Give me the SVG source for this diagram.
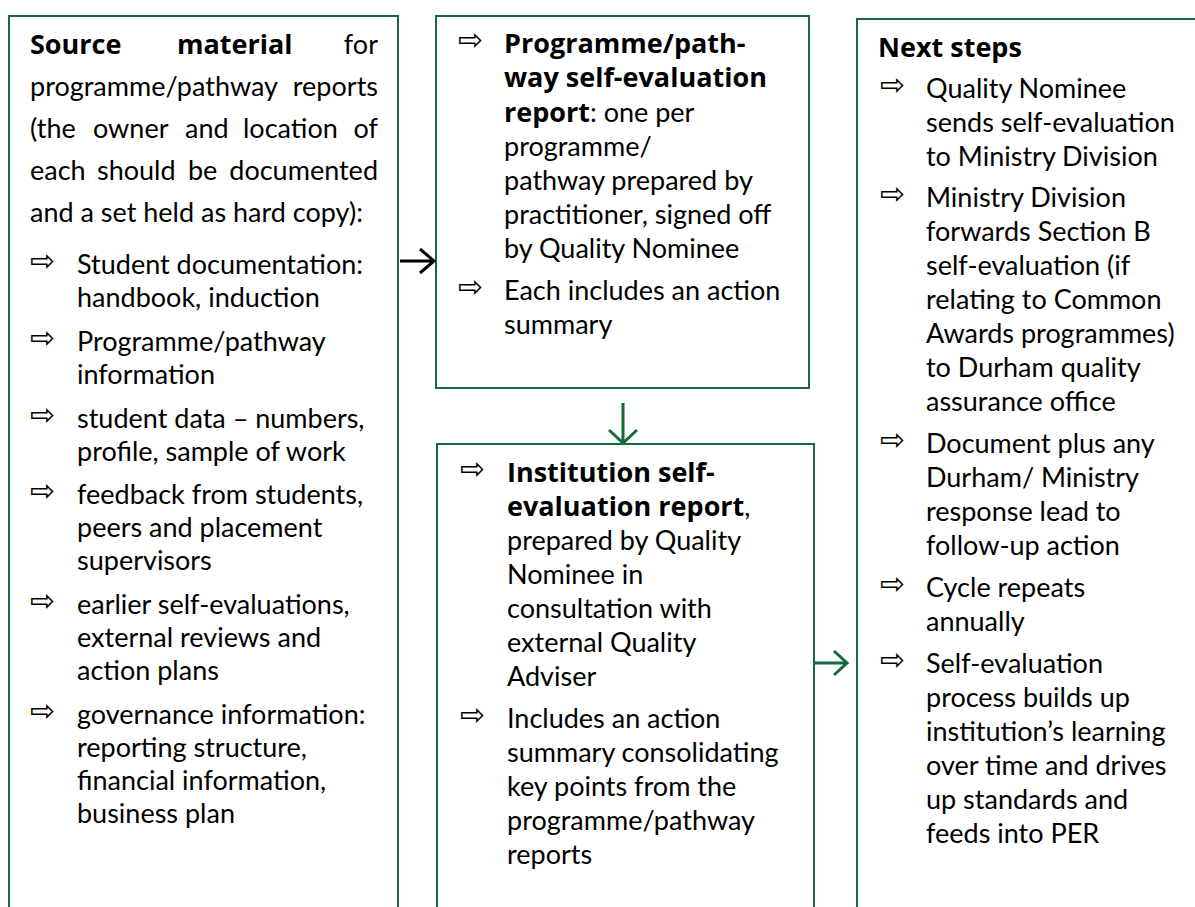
<svg xmlns="http://www.w3.org/2000/svg" width="1195" height="907" viewBox="0 0 1195 907">
<style>
.box{fill:#ffffff;stroke:#17683b;stroke-width:2}
text{font-family:Lato,"Liberation Sans",sans-serif;font-size:27px;fill:#000}
.b{font-family:"Open Sans","Liberation Sans",sans-serif;font-weight:bold;font-size:27px}
.bul{font-family:"DejaVu Sans",sans-serif;font-size:30px}
.g{stroke:#17683b;stroke-width:3;fill:none}
.k{stroke:#000;stroke-width:3;fill:none}
</style>
<rect width="1195" height="907" fill="#fff"/>
<g id="source-material">
<rect class="box" x="9" y="16" width="389" height="905"/>
<text y="54"><tspan x="30" class="b">Source</tspan><tspan x="177" class="b">material</tspan><tspan x="378" text-anchor="end">for</tspan></text>
<text y="96"><tspan x="30">programme/pathway</tspan><tspan x="378" text-anchor="end">reports</tspan></text>
<text y="138"><tspan x="30">(the</tspan><tspan x="93">owner</tspan><tspan x="185">and</tspan><tspan x="243">location</tspan><tspan x="378" text-anchor="end">of</tspan></text>
<text y="180"><tspan x="30">each</tspan><tspan x="97">should</tspan><tspan x="188">be</tspan><tspan x="378" text-anchor="end">documented</tspan></text>
<text x="30" y="222">and a set held as hard copy):</text>
<text class="bul" x="30" y="271">⇨</text>
<text x="77" y="274">Student documentation:</text>
<text x="77" y="307">handbook, induction</text>
<text class="bul" x="30" y="348">⇨</text>
<text x="77" y="351">Programme/pathway</text>
<text x="77" y="384">information</text>
<text class="bul" x="30" y="425">⇨</text>
<text x="77" y="428">student data – numbers,</text>
<text x="77" y="461">profile, sample of work</text>
<text class="bul" x="30" y="501">⇨</text>
<text x="77" y="504">feedback from students,</text>
<text x="77" y="537">peers and placement</text>
<text x="77" y="570">supervisors</text>
<text class="bul" x="30" y="611">⇨</text>
<text x="77" y="614">earlier self-evaluations,</text>
<text x="77" y="647">external reviews and</text>
<text x="77" y="680">action plans</text>
<text class="bul" x="30" y="721">⇨</text>
<text x="77" y="724">governance information:</text>
<text x="77" y="757">reporting structure,</text>
<text x="77" y="790">financial information,</text>
<text x="77" y="823">business plan</text>
</g>
<g id="programme-report">
<rect class="box" x="436" y="16" width="373" height="372"/>
<text class="bul" x="458" y="50">⇨</text>
<text x="504" y="53" class="b">Programme/path-</text>
<text x="504" y="87" class="b">way self-evaluation</text>
<text x="504" y="122"><tspan class="b">report</tspan>: one per</text>
<text x="504" y="156">programme/</text>
<text x="504" y="190">pathway prepared by</text>
<text x="504" y="224">practitioner, signed off</text>
<text x="504" y="258">by Quality Nominee</text>
<text class="bul" x="458" y="297">⇨</text>
<text x="504" y="300">Each includes an action</text>
<text x="504" y="334">summary</text>
</g>
<g id="institution-report">
<rect class="box" x="437" y="444" width="377" height="480"/>
<text class="bul" x="460" y="479">⇨</text>
<text x="507" y="482" class="b">Institution self-</text>
<text x="507" y="516"><tspan class="b">evaluation report</tspan>,</text>
<text x="507" y="550">prepared by Quality</text>
<text x="507" y="584">Nominee in</text>
<text x="507" y="618">consultation with</text>
<text x="507" y="652">external Quality</text>
<text x="507" y="686">Adviser</text>
<text class="bul" x="460" y="725">⇨</text>
<text x="507" y="728">Includes an action</text>
<text x="507" y="762">summary consolidating</text>
<text x="507" y="796">key points from the</text>
<text x="507" y="830">programme/pathway</text>
<text x="507" y="864">reports</text>
</g>
<g id="next-steps">
<rect class="box" x="857" y="19" width="360" height="905"/>
<text x="878" y="57" class="b">Next steps</text>
<text class="bul" x="880" y="95">⇨</text>
<text x="926" y="98">Quality Nominee</text>
<text x="926" y="132">sends self-evaluation</text>
<text x="926" y="166">to Ministry Division</text>
<text class="bul" x="880" y="204">⇨</text>
<text x="926" y="207">Ministry Division</text>
<text x="926" y="241">forwards Section B</text>
<text x="926" y="275">self-evaluation (if</text>
<text x="926" y="309">relating to Common</text>
<text x="926" y="343">Awards programmes)</text>
<text x="926" y="377">to Durham quality</text>
<text x="926" y="411">assurance office</text>
<text class="bul" x="880" y="450">⇨</text>
<text x="926" y="453">Document plus any</text>
<text x="926" y="487">Durham/ Ministry</text>
<text x="926" y="521">response lead to</text>
<text x="926" y="555">follow-up action</text>
<text class="bul" x="880" y="594">⇨</text>
<text x="926" y="597">Cycle repeats</text>
<text x="926" y="631">annually</text>
<text class="bul" x="880" y="670">⇨</text>
<text x="926" y="673">Self-evaluation</text>
<text x="926" y="707">process builds up</text>
<text x="926" y="741">institution’s learning</text>
<text x="926" y="775">over time and drives</text>
<text x="926" y="809">up standards and</text>
<text x="926" y="843">feeds into PER</text>
</g>
<g id="connectors">
<path class="k" d="M400 261 H434 M420 249 L434 261 L420 273"/>
<path class="g" d="M623 403 V443 M609 430 L623 443 L637 430"/>
<path class="g" d="M814 663 H847 M834 651 L847 663 L834 675"/>
</g>
</svg>
